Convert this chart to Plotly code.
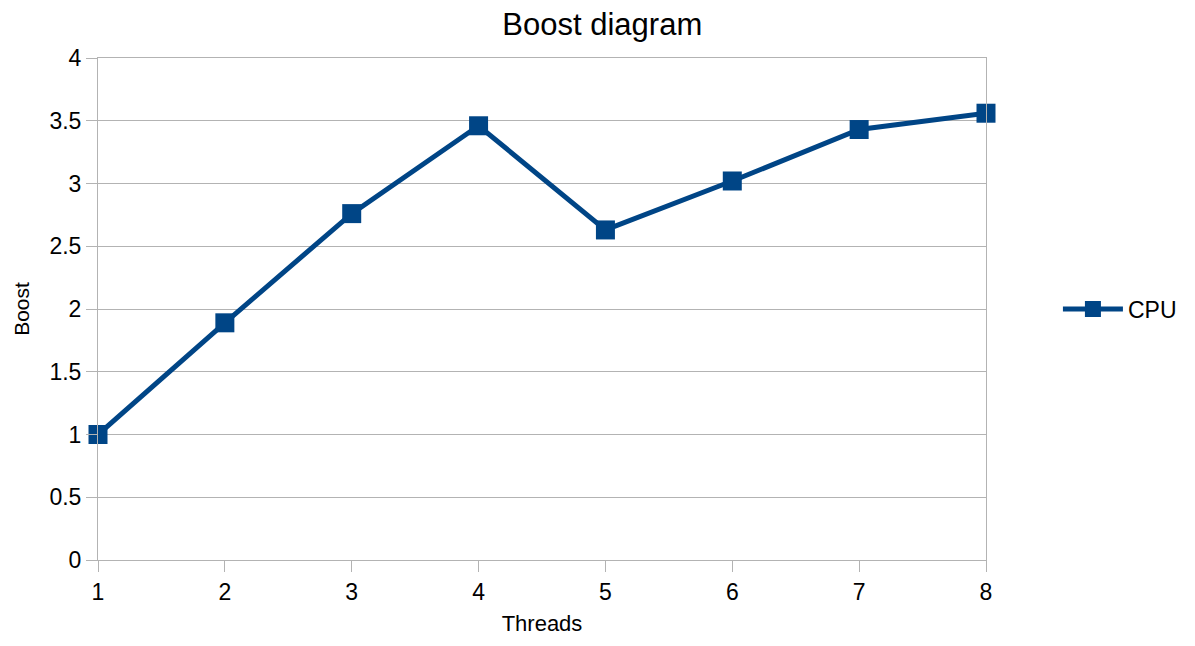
import plotly.graph_objects as go

threads = [1, 2, 3, 4, 5, 6, 7, 8]
boost = [1.0, 1.89, 2.76, 3.46, 2.63, 3.02, 3.43, 3.56]
y_ticks = [0, 0.5, 1, 1.5, 2, 2.5, 3, 3.5, 4]
y_tick_text = ["0", "0.5", "1", "1.5", "2", "2.5", "3", "3.5", "4"]

line_color = "#004586"
grid_color = "#b3b3b3"
font_family = "Liberation Sans, Arial, sans-serif"

fig = go.Figure()
fig.add_trace(go.Scatter(
    x=threads, y=boost, name="CPU", mode="lines+markers",
    line=dict(color=line_color, width=5),
    marker=dict(symbol="square", size=19, color=line_color),
    cliponaxis=False,
))

fig.update_layout(
    width=1195, height=646,
    margin=dict(l=98, r=209, t=58, b=86),
    paper_bgcolor="white", plot_bgcolor="white",
    font=dict(family=font_family, color="black", size=23),
    title=dict(text="Boost diagram", x=0.504, xref="container", xanchor="center",
               y=0.962, yanchor="middle", yref="container",
               font=dict(size=31, family=font_family)),
    showlegend=True,
    legend=dict(x=1.081, y=0.5, xanchor="left", yanchor="middle",
                font=dict(size=23), itemwidth=60),
    xaxis=dict(
        range=[1, 8], tickvals=threads, ticktext=[str(t) for t in threads],
        showgrid=False, zeroline=False,
        showline=True, linecolor=grid_color, linewidth=1, mirror=True,
        ticks="outside", ticklen=11, tickcolor=grid_color,
        tickfont=dict(size=23),
        title=dict(text="Threads", font=dict(size=22), standoff=12),
    ),
    yaxis=dict(
        range=[0, 4], tickvals=y_ticks, ticktext=y_tick_text,
        showgrid=True, gridcolor=grid_color, gridwidth=1, zeroline=False,
        showline=True, linecolor=grid_color, linewidth=1, mirror=True,
        ticks="outside", ticklen=11, tickcolor=grid_color,
        tickfont=dict(size=23),
        title=dict(text="Boost", font=dict(size=21), standoff=14),
    ),
)

fig.write_html("out.html")
